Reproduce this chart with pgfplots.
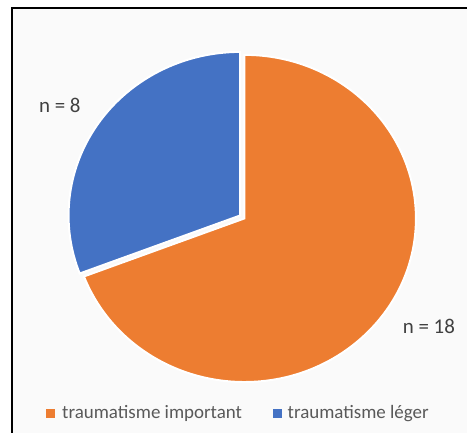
\documentclass[border=0pt]{standalone}
\usepackage{fontspec}
\setmainfont{Carlito}
\usepackage{pgfplots}
\usepackage{pgfplotstable}
\pgfplotsset{compat=1.18}
\definecolor{xlorange}{HTML}{ED7D31}
\definecolor{xlblue}{HTML}{4472C4}
\definecolor{labelgray}{HTML}{404040}
\definecolor{leggray}{HTML}{595959}

% pie values (n per group)
\pgfplotstableread{
label value
important 18
leger 8
}\piedata

\begin{document}
\begin{tikzpicture}
\pgfplotstablegetelem{0}{value}\of\piedata \let\vImp\pgfplotsretval
\pgfplotstablegetelem{1}{value}\of\piedata \let\vLeg\pgfplotsretval
\pgfmathsetmacro\aImp{360*\vImp/(\vImp+\vLeg)}
\pgfmathsetmacro\aEnd{90-\aImp}
\pgfmathsetmacro\aBlue{450-\aImp}
\pgfmathsetmacro\aMid{90+(360-\aImp)/2}
\begin{axis}[
  width=234bp, height=217bp, scale only axis,
  xmin=0, xmax=468, ymin=0, ymax=434,
  axis lines=none, clip=false,
]
  % keep the whole canvas in the bounding box
  \path[draw=none] (axis cs:0,0) rectangle (axis cs:468,434);
  % frame
  \fill[black!2] (axis cs:12,0) rectangle (axis cs:468,426);
  \draw[black, line width=1.2bp] (axis cs:12,0) -- (axis cs:12,426) -- (axis cs:468,426);

  % traumatisme important
  \filldraw[fill=xlorange, draw=white, line width=1bp]
    (axis cs:245,215) -- ([shift={(90:86bp and 82bp)}]axis cs:245,215)
    arc[start angle=90, end angle=\aEnd, x radius=86bp, y radius=82bp] -- cycle;

  % traumatisme leger, pulled out a little
  \begin{scope}[shift={(\aMid:2.6bp)}]
  \filldraw[fill=xlblue, draw=white, line width=1bp]
    (axis cs:245,215) -- ([shift={(90:86bp and 82bp)}]axis cs:245,215)
    arc[start angle=90, end angle=\aBlue, x radius=86bp, y radius=82bp] -- cycle;
  \end{scope}

  % data labels
  \node[text=labelgray, font=\fontsize{10.5bp}{12bp}\selectfont] at (axis cs:60,328) {n = \vLeg};
  \node[text=labelgray, font=\fontsize{10.5bp}{12bp}\selectfont] at (axis cs:430,106.5) {n = \vImp};

  % legend
  \fill[xlorange] (axis cs:46,15) rectangle (axis cs:55,24);
  \node[anchor=base west, inner sep=0, text=leggray, font=\fontsize{9.5bp}{11bp}\selectfont]
    at (axis cs:62,14) {traumatisme important};
  \fill[xlblue] (axis cs:274,15) rectangle (axis cs:283,24);
  \node[anchor=base west, inner sep=0, text=leggray, font=\fontsize{9.5bp}{11bp}\selectfont]
    at (axis cs:288,14) {traumatisme léger};
\end{axis}
\end{tikzpicture}
\end{document}
